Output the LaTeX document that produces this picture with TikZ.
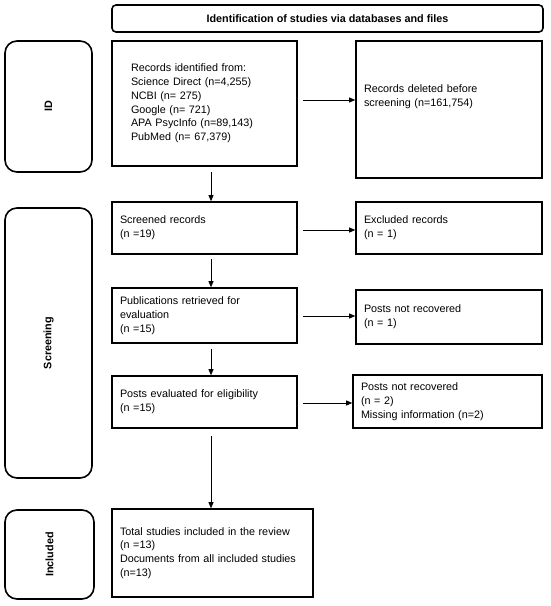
\documentclass[tikz,border=0pt]{standalone}
\usepackage{fontspec}
\setmainfont{Liberation Sans}
\usetikzlibrary{arrows.meta,calc}
\tikzset{
  bx/.style={draw, line width=1.6pt, rectangle, inner xsep=8pt, inner ysep=0pt, align=left,
    font=\fontsize{10.8}{13.8}\selectfont},
  side/.style={draw, line width=1.6pt, rounded corners=12pt, inner sep=0pt,
    font=\fontsize{10.8}{13}\selectfont\bfseries},
  arr/.style={-{Triangle[length=6pt,width=5pt]}, line width=0.8pt},
}
\begin{document}
\begin{tikzpicture}[x=1pt,y=-1pt]
\useasboundingbox (0,0) rectangle (550,606);
% title
\node[draw, line width=1.6pt, rounded corners=4pt, minimum width=431pt, minimum height=27pt,
  font=\fontsize{10.8}{13}\selectfont\bfseries] (title) at (327.5,18.5) {Identification of studies via databases and files};
% side boxes
\node[side, minimum width=87pt, minimum height=131pt] (sid) at (48.5,106.5) {\rotatebox{90}{ID}};
\node[side, minimum width=87pt, minimum height=270pt] (sscr) at (48.5,343) {\rotatebox{90}{Screening}};
\node[side, minimum width=89pt, minimum height=89pt] (sinc) at (49.5,554.5) {\rotatebox{90}{Included}};
% left column
\node[bx, inner xsep=19pt, text width=147pt, minimum height=125pt] (rec) at (204.5,103.5)
  {Records identified from:\\Science Direct (n=4,255)\\NCBI (n= 275)\\Google (n= 721)\\APA PsycInfo (n=89,143)\\PubMed (n= 67,379)};
\node[bx, text width=169pt, minimum height=52pt] (scr) at (204.5,228)
  {Screened records\\(n =19)};
\node[bx, text width=169pt, minimum height=55pt] (pub) at (204.5,315.5)
  {Publications retrieved for\\evaluation\\(n =15)};
\node[bx, text width=169pt, minimum height=52pt] (elig) at (204.5,402)
  {Posts evaluated for eligibility\\(n =15)};
\node[bx, text width=185pt, minimum height=88pt] (inc) at (212.5,553)
  {Total studies included in the review\\(n =13)\\Documents from all included studies\\(n=13)};
% right column
\node[bx, text width=170pt, minimum height=137pt] (del) at (449,109.5)
  {Records deleted before\\screening (n=161,754)\\\mbox{}\\\mbox{}};
\node[bx, text width=170pt, minimum height=52pt] (exc) at (449,228)
  {Excluded records\\(n = 1)};
\node[bx, text width=170pt, minimum height=54pt] (pnr1) at (449,317)
  {Posts not recovered\\(n = 1)};
\node[bx, text width=173pt, minimum height=53pt] (pnr2) at (447.5,401.5)
  {Posts not recovered\\(n = 2)\\Missing information (n=2)};
% arrow guide
\coordinate (xa) at (211,0);
% horizontal arrows
\draw[arr, shorten <=5pt] (rec.east |- 0,100) -- (del.west |- 0,100);
\draw[arr, shorten <=5pt] (scr.east |- 0,230) -- (exc.west |- 0,230);
\draw[arr, shorten <=5pt] (pub.east |- 0,316) -- (pnr1.west |- 0,316);
\draw[arr, shorten <=5pt] (elig.east |- 0,403) -- (pnr2.west |- 0,403);
% vertical arrows
\draw[arr, shorten <=5pt] (rec.south -| xa) -- (scr.north -| xa);
\draw[arr, shorten <=4pt] (scr.south -| xa) -- (pub.north -| xa);
\draw[arr, shorten <=5pt] (pub.south -| xa) -- (elig.north -| xa);
\draw[arr, shorten <=7pt] (elig.south -| xa) -- (inc.north -| xa);
\end{tikzpicture}
\end{document}
